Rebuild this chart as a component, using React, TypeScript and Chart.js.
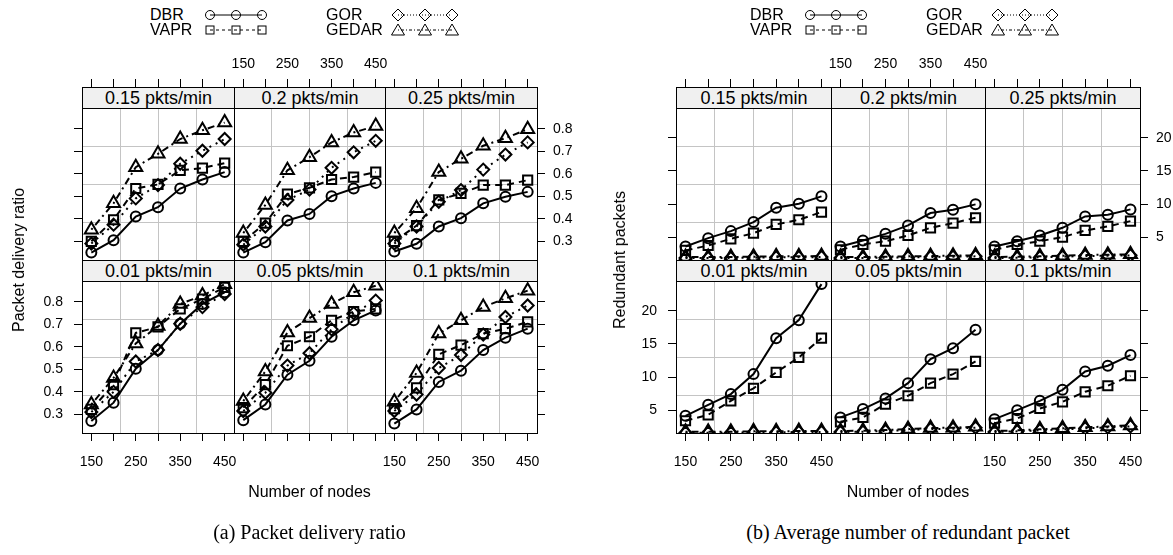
import React, { useEffect, useRef } from "react";
import { Chart, registerables } from "chart.js";

Chart.register(...registerables);

// ---------- data ----------
const nodeCounts = [150, 200, 250, 300, 350, 400, 450];
const labelledNodeTicks = [150, 250, 350, 450];
const rateLabels = ["0.15 pkts/min", "0.2 pkts/min", "0.25 pkts/min", "0.01 pkts/min", "0.05 pkts/min", "0.1 pkts/min"];
const protocols = ["DBR", "VAPR", "GOR", "GEDAR"];
const pdrTicks = [0.3, 0.4, 0.5, 0.6, 0.7, 0.8];
const redundantTicks = [5, 10, 15, 20];

// Packet delivery ratio (rows follow rateLabels)
const pdrDBR = [
  [0.25, 0.305, 0.41, 0.452, 0.535, 0.575, 0.608],
  [0.25, 0.296, 0.393, 0.422, 0.501, 0.535, 0.56],
  [0.255, 0.289, 0.366, 0.403, 0.469, 0.498, 0.52],
  [0.27, 0.352, 0.503, 0.586, 0.703, 0.791, 0.843],
  [0.274, 0.344, 0.476, 0.538, 0.645, 0.718, 0.762],
  [0.259, 0.322, 0.444, 0.494, 0.586, 0.641, 0.681],
];
const pdrVAPR = [
  [0.3, 0.396, 0.535, 0.553, 0.616, 0.626, 0.648],
  [0.3, 0.381, 0.51, 0.538, 0.575, 0.586, 0.608],
  [0.3, 0.37, 0.484, 0.513, 0.55, 0.55, 0.572],
  [0.322, 0.432, 0.662, 0.689, 0.769, 0.813, 0.865],
  [0.33, 0.432, 0.605, 0.645, 0.718, 0.757, 0.769],
  [0.325, 0.418, 0.567, 0.608, 0.659, 0.681, 0.711],
];
const pdrGOR = [
  [0.29, 0.374, 0.491, 0.55, 0.645, 0.703, 0.755],
  [0.285, 0.366, 0.484, 0.53, 0.627, 0.696, 0.747],
  [0.29, 0.366, 0.476, 0.528, 0.619, 0.686, 0.74],
  [0.31, 0.4, 0.535, 0.586, 0.703, 0.777, 0.835],
  [0.315, 0.396, 0.517, 0.572, 0.678, 0.75, 0.806],
  [0.315, 0.388, 0.506, 0.564, 0.655, 0.733, 0.784],
];
const pdrGEDAR = [
  [0.352, 0.469, 0.63, 0.689, 0.755, 0.794, 0.828],
  [0.337, 0.462, 0.616, 0.674, 0.74, 0.784, 0.813],
  [0.337, 0.447, 0.608, 0.667, 0.725, 0.759, 0.799],
  [0.344, 0.462, 0.615, 0.693, 0.791, 0.828, 0.879],
  [0.359, 0.491, 0.664, 0.728, 0.791, 0.843, 0.872],
  [0.356, 0.484, 0.659, 0.718, 0.777, 0.816, 0.85],
];

// Redundant packets (rows follow rateLabels)
const redDBR = [
  [3.59, 4.85, 5.91, 7.27, 9.44, 10.05, 11.16],
  [3.59, 4.49, 5.5, 6.77, 8.64, 9.14, 9.95],
  [3.59, 4.39, 5.25, 6.41, 8.13, 8.38, 9.19],
  [4.15, 5.81, 7.42, 10.44, 15.87, 18.59, 24.03],
  [3.9, 5.16, 6.77, 9.08, 12.7, 14.36, 17.13],
  [3.64, 5.0, 6.41, 8.07, 10.84, 11.7, 13.31],
];
const redVAPR = [
  [3.0, 3.74, 4.75, 5.6, 6.92, 7.63, 8.79],
  [3.1, 3.89, 4.39, 5.25, 6.41, 7.12, 7.93],
  [3.1, 3.89, 4.39, 5.0, 6.01, 6.62, 7.42],
  [3.4, 4.3, 6.4, 8.3, 10.7, 12.96, 15.87],
  [3.24, 3.9, 5.91, 7.17, 9.08, 10.44, 12.35],
  [3.04, 3.74, 5.25, 6.26, 7.77, 8.68, 10.19],
];
const redGOR = [
  [1.85, 1.85, 1.85, 1.9, 1.95, 1.95, 2.0],
  [1.85, 1.85, 1.9, 1.95, 2.0, 2.05, 2.1],
  [1.85, 1.9, 1.95, 2.05, 2.15, 2.2, 2.25],
  [1.6, 1.6, 1.6, 1.65, 1.65, 1.7, 1.7],
  [1.7, 1.75, 1.85, 2.0, 2.15, 2.2, 2.35],
  [1.7, 1.8, 1.95, 2.1, 2.25, 2.4, 2.55],
];
const redGEDAR = [
  [2.0, 2.0, 2.0, 2.05, 2.1, 2.1, 2.15],
  [2.0, 2.0, 2.05, 2.1, 2.15, 2.2, 2.25],
  [2.0, 2.05, 2.1, 2.2, 2.3, 2.35, 2.4],
  [1.75, 1.75, 1.75, 1.8, 1.8, 1.85, 1.85],
  [1.85, 1.9, 2.0, 2.15, 2.3, 2.35, 2.5],
  [1.85, 1.95, 2.1, 2.25, 2.4, 2.55, 2.7],
];

// ---------- layout / style ----------
const FONT = "'Liberation Sans', Arial, Helvetica, sans-serif";
const SERIF = "'Liberation Serif', 'Times New Roman', serif";
const GRID = "#c4c4c4";
const ML = 60, MR = 60, MT = 80, MB = 50;
const STRIP = 21;
const TICK = 8;
const PANEL_H = 152;
const ROW_TOPS = [108, 281];
const XMIN = 129, XMAX = 471;

const seriesStyles = [
  { pointStyle: "circle", pointRadius: 5, borderDash: [] as number[] },
  { pointStyle: "rect", pointRadius: 6.5, borderDash: [7, 5] },
  { pointStyle: "rectRot", pointRadius: 6, borderDash: [2, 5] },
  { pointStyle: "triangle", pointRadius: 7.5, borderDash: [2, 4, 7, 4] },
];

type PanelSpec = {
  key: string;
  left: number;
  top: number;
  w: number;
  h: number;
  row: number;
  col: number;
  yMin: number;
  yMax: number;
  yTicks: number[];
  yFmt: (v: number) => string;
  series: number[][];
  title: string;
};

const framePlugin = {
  id: "panelFrame",
  afterDraw(chart: any) {
    const { ctx, chartArea: a } = chart;
    ctx.save();
    ctx.strokeStyle = "#000";
    ctx.lineWidth = 1;
    ctx.strokeRect(Math.round(a.left) + 0.5, Math.round(a.top) + 0.5, Math.round(a.right - a.left), Math.round(a.bottom - a.top));
    ctx.restore();
  },
};

function quarters(a: number, b: number) {
  return [a + (b - a) / 4, (a + b) / 2, a + (3 * (b - a)) / 4];
}

function buildConfig(p: PanelSpec) {
  const tickFont = { family: FONT, size: 14 };
  const scales: any = {
    x: {
      type: "linear", position: "bottom", weight: 0, min: XMIN, max: XMAX,
      afterBuildTicks: (s: any) => { s.ticks = quarters(XMIN, XMAX).map((v) => ({ value: v })); },
      afterFit: (s: any) => { s.height = 0; },
      ticks: { display: false },
      grid: { color: GRID, lineWidth: 1, drawTicks: false },
      border: { display: false },
    },
    y: {
      type: "linear", position: "left", weight: 0, min: p.yMin, max: p.yMax,
      afterBuildTicks: (s: any) => { s.ticks = quarters(p.yMin, p.yMax).map((v) => ({ value: v })); },
      afterFit: (s: any) => { s.width = 0; },
      ticks: { display: false },
      grid: { color: GRID, lineWidth: 1, drawTicks: false },
      border: { display: false },
    },
  };
  const axis = (pos: string, weight: number, min: number, max: number, values: number[], size: number, label: (v: number) => string, pad: number) => ({
    type: "linear", position: pos, weight, min, max,
    afterBuildTicks: (s: any) => { s.ticks = values.map((v) => ({ value: v })); },
    afterFit: (s: any) => {
      if (pos === "top" || pos === "bottom") s.height = size; else s.width = size;
    },
    ticks: {
      display: true, autoSkip: false, maxRotation: 0, minRotation: 0, color: "#000",
      font: tickFont, padding: pad, callback: (v: any) => label(Number(v)),
    },
    grid: { display: true, drawOnChartArea: false, drawTicks: true, tickLength: TICK, tickColor: "#000", tickWidth: 1, color: "#000", lineWidth: 1 },
    border: { display: false },
  });
  const xLab = (show: boolean) => (v: number) => (show && labelledNodeTicks.includes(v) ? String(v) : "");
  const yLab = (show: boolean) => (v: number) => (show ? p.yFmt(v) : "");
  if (p.row === 0) {
    scales.sp = {
      type: "linear", position: "top", weight: 1, min: 0, max: 1,
      afterFit: (s: any) => { s.height = STRIP; },
      ticks: { display: false }, grid: { display: false }, border: { display: false },
    };
    scales.xt = axis("top", 2, XMIN, XMAX, nodeCounts, MT - STRIP, xLab(p.col === 1), 6);
  } else {
    scales.xb = axis("bottom", 1, XMIN, XMAX, nodeCounts, MB, xLab(p.col !== 1), 13);
  }
  if (p.col === 0) scales.yl = axis("left", 1, p.yMin, p.yMax, p.yTicks, ML, yLab(p.row === 1), 11);
  if (p.col === 2) scales.yr = axis("right", 1, p.yMin, p.yMax, p.yTicks, MR, yLab(p.row === 0), 8);

  const datasets = p.series.map((vals, i) => ({
    label: protocols[i],
    data: nodeCounts.map((n, j) => ({ x: n, y: vals[j] })),
    xAxisID: "x",
    yAxisID: "y",
    borderColor: "#000",
    borderWidth: 2,
    borderDash: seriesStyles[i].borderDash,
    pointStyle: seriesStyles[i].pointStyle,
    pointRadius: seriesStyles[i].pointRadius,
    pointBorderColor: "#000",
    pointBackgroundColor: "rgba(0,0,0,0)",
    pointBorderWidth: 2,
    tension: 0,
    fill: false,
    clip: 0,
  }));

  return {
    type: "line",
    data: { datasets },
    options: {
      responsive: false,
      animation: false,
      devicePixelRatio: 1,
      events: [],
      layout: {
        padding: {
          left: p.col === 0 ? 0 : ML,
          right: p.col === 2 ? 0 : MR,
          top: p.row === 0 ? 0 : MT,
          bottom: p.row === 1 ? 0 : MB,
        },
      },
      plugins: { legend: { display: false }, tooltip: { enabled: false }, title: { display: false } },
      scales,
    },
    plugins: [framePlugin],
  };
}

function PanelChart({ p }: { p: PanelSpec }) {
  const ref = useRef<HTMLCanvasElement | null>(null);
  useEffect(() => {
    const chart = new Chart(ref.current as HTMLCanvasElement, buildConfig(p) as any);
    return () => chart.destroy();
  }, []);
  const cw = p.w + ML + MR;
  const ch = p.h + MT + MB;
  return (
    <canvas
      ref={ref}
      width={cw}
      height={ch}
      style={{ position: "absolute", left: p.left - ML, top: p.top - MT, width: cw, height: ch }}
    />
  );
}

const figures = [
  {
    id: "pdr",
    xs: [82, 234, 385, 537],
    yMin: 0.217, yMax: 0.893, yTicks: pdrTicks, yFmt: (v: number) => v.toFixed(1),
    seriesSets: [pdrDBR, pdrVAPR, pdrGOR, pdrGEDAR],
    yTitle: "Packet delivery ratio", yTitleX: 19,
    caption: "(a) Packet delivery ratio",
    legendDx: 0,
  },
  {
    id: "red",
    xs: [676, 831, 985, 1140],
    yMin: 1.55, yMax: 24.5, yTicks: redundantTicks, yFmt: (v: number) => String(v),
    seriesSets: [redDBR, redVAPR, redGOR, redGEDAR],
    yTitle: "Redundant packets", yTitleX: 620,
    caption: "(b) Average number of redundant packet",
    legendDx: 600,
  },
];

function buildPanels(): PanelSpec[] {
  const out: PanelSpec[] = [];
  figures.forEach((f) => {
    rateLabels.forEach((title, k) => {
      const row = k < 3 ? 0 : 1;
      const col = k % 3;
      out.push({
        key: f.id + k,
        left: f.xs[col],
        top: ROW_TOPS[row],
        w: f.xs[col + 1] - f.xs[col],
        h: PANEL_H,
        row, col,
        yMin: f.yMin, yMax: f.yMax, yTicks: f.yTicks, yFmt: f.yFmt,
        series: f.seriesSets.map((s) => s[k]),
        title,
      });
    });
  });
  return out;
}

function marker(kind: number, cx: number, cy: number, key: string) {
  const common = { fill: "none", stroke: "#000", strokeWidth: 1 } as any;
  if (kind === 0) return <circle key={key} cx={cx} cy={cy} r={4.5} {...common} />;
  if (kind === 1) return <rect key={key} x={cx - 4} y={cy - 4} width={8} height={8} {...common} />;
  if (kind === 2) return <polygon key={key} points={`${cx},${cy - 6} ${cx + 6},${cy} ${cx},${cy + 6} ${cx - 6},${cy}`} {...common} />;
  return <polygon key={key} points={`${cx},${cy - 6} ${cx + 6.5},${cy + 5} ${cx - 6.5},${cy + 5}`} {...common} />;
}

const legendDash = ["", "3,3", "1,2", "1,2,3,2"];

function LegendBlock({ dx }: { dx: number }) {
  const groups = [
    { textX: 150, symX: [210, 236, 262], kinds: [0, 1] },
    { textX: 326, symX: [398, 425, 452], kinds: [2, 3] },
  ];
  const rowsY = [15, 30];
  const texts: any[] = [];
  const shapes: any[] = [];
  groups.forEach((g, gi) => {
    g.kinds.forEach((kind, ri) => {
      const y = rowsY[ri];
      texts.push(
        <div key={`t${gi}${ri}`} style={{ position: "absolute", left: g.textX + dx, top: y - 9, fontSize: 16, lineHeight: "18px", fontFamily: FONT, color: "#000", whiteSpace: "nowrap" }}>
          {protocols[kind]}
        </div>
      );
      shapes.push(
        <line key={`l${gi}${ri}`} x1={g.symX[0] + dx} y1={y} x2={g.symX[2] + dx} y2={y} stroke="#000" strokeWidth={1} strokeDasharray={legendDash[kind] || undefined} />
      );
      g.symX.forEach((sx, si) => shapes.push(marker(kind, sx + dx, y, `m${gi}${ri}${si}`)));
    });
  });
  return (
    <>
      {texts}
      <svg width={1173} height={50} style={{ position: "absolute", left: 0, top: 0, overflow: "visible" }}>
        {shapes}
      </svg>
    </>
  );
}

export default function App() {
  const panels = buildPanels();
  return (
    <div style={{ position: "absolute", left: 0, top: 0, width: 1173, height: 555, background: "#fff", overflow: "hidden", fontFamily: FONT }}>
      {panels.map((p) => (
        <PanelChart key={p.key} p={p} />
      ))}
      {panels.map((p) => (
        <div
          key={"strip" + p.key}
          style={{
            position: "absolute", left: p.left, top: p.top - STRIP, width: p.w + 1, height: STRIP + 1,
            boxSizing: "border-box", border: "1px solid #000", background: "#f0f0f0",
            display: "flex", alignItems: "center", justifyContent: "center",
            fontFamily: FONT, fontSize: 18, color: "#000", whiteSpace: "nowrap", lineHeight: "19px",
          }}
        >
          {p.title}
        </div>
      ))}
      {figures.map((f) => {
        const cx = (f.xs[0] + f.xs[3]) / 2;
        return (
          <React.Fragment key={"txt" + f.id}>
            <div style={{ position: "absolute", left: f.yTitleX, top: 260, transform: "translate(-50%, -50%) rotate(-90deg)", fontSize: 16, fontFamily: FONT, whiteSpace: "nowrap", color: "#000" }}>
              {f.yTitle}
            </div>
            <div style={{ position: "absolute", left: cx, top: 492, transform: "translate(-50%, -50%)", fontSize: 16, fontFamily: FONT, whiteSpace: "nowrap", color: "#000" }}>
              Number of nodes
            </div>
            <div style={{ position: "absolute", left: cx, top: 532, transform: "translate(-50%, -50%)", fontSize: 20, fontFamily: SERIF, whiteSpace: "nowrap", color: "#000" }}>
              {f.caption}
            </div>
            <LegendBlock dx={f.legendDx} />
          </React.Fragment>
        );
      })}
    </div>
  );
}
